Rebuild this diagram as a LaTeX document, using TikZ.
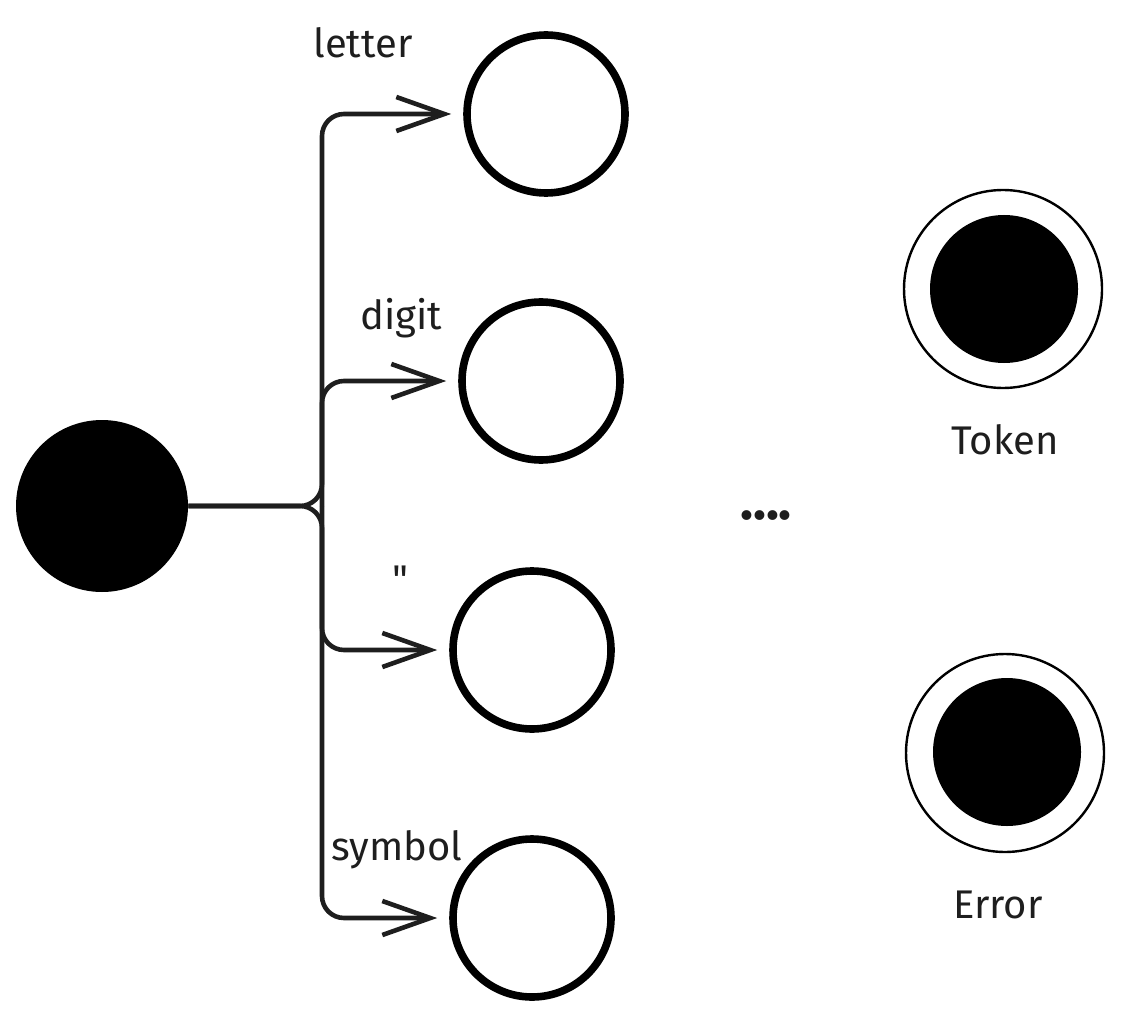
\documentclass[tikz,border=0pt]{standalone}
\usepackage{fontspec}
\setmainfont{Fira Sans}
\usetikzlibrary{arrows.meta}
\definecolor{ink}{HTML}{1E1E1E}

\begin{document}
\begin{tikzpicture}[x=0.5pt, y=-0.5pt,
    state/.style={circle, draw=black, line width=3.8pt, minimum size=79pt, inner sep=0pt},
    startdot/.style={circle, fill=black, minimum size=86pt, inner sep=0pt},
    acceptring/.style={circle, draw=black, line width=1.2pt, minimum size=99pt, inner sep=0pt},
    filldot/.style={circle, fill=black, minimum size=74pt, inner sep=0pt},
    lbl/.style={text=ink, font=\fontsize{20}{24}\selectfont},
    flow/.style={draw=ink, line width=2.3pt, rounded corners=11pt, -{Straight Barb[length=24pt, width=17pt]}, shorten >=6pt}]
    \useasboundingbox (0,0) rectangle (1122,1021);

    % Start state
    \node[startdot] (start) at (102, 506) {};
    \coordinate (fork) at (322, 506);

    % Next states
    \node[state] (letter) at (546, 114) {};
    \node[state] (digit) at (541, 381) {};
    \node[state] (quote) at (532, 650) {};
    \node[state] (symbol) at (532, 918) {};

    % Final states
    \node[acceptring] (token) at (1003, 289) {};
    \node[filldot] (tokencore) at (1004, 289) {};
    \node[acceptring] (error) at (1005, 753) {};
    \node[filldot] (errorcore) at (1007, 752) {};

    % Labels
    \node[lbl] (letterlbl) at (363, 43) {letter};
    \node[lbl] (digitlbl) at (401, 318) {digit};
    \node[lbl] (quotelbl) at (400, 580) {\textquotedbl};
    \node[lbl] (symbollbl) at (397, 850) {symbol};
    \node[lbl] (tokenlbl) at (1005, 440) {Token};
    \node[lbl] (errorlbl) at (998, 905) {Error};
    \node[lbl, font=\fontsize{27}{30}\bfseries] (more) at (766, 516) {....};

    % Connections
    \draw[flow] (start) -- (fork) |- (letter);
    \draw[flow] (fork) |- (digit);
    \draw[flow] (start) -- (fork) |- (symbol);
    \draw[flow] (fork) |- (quote);
\end{tikzpicture}
\end{document}
